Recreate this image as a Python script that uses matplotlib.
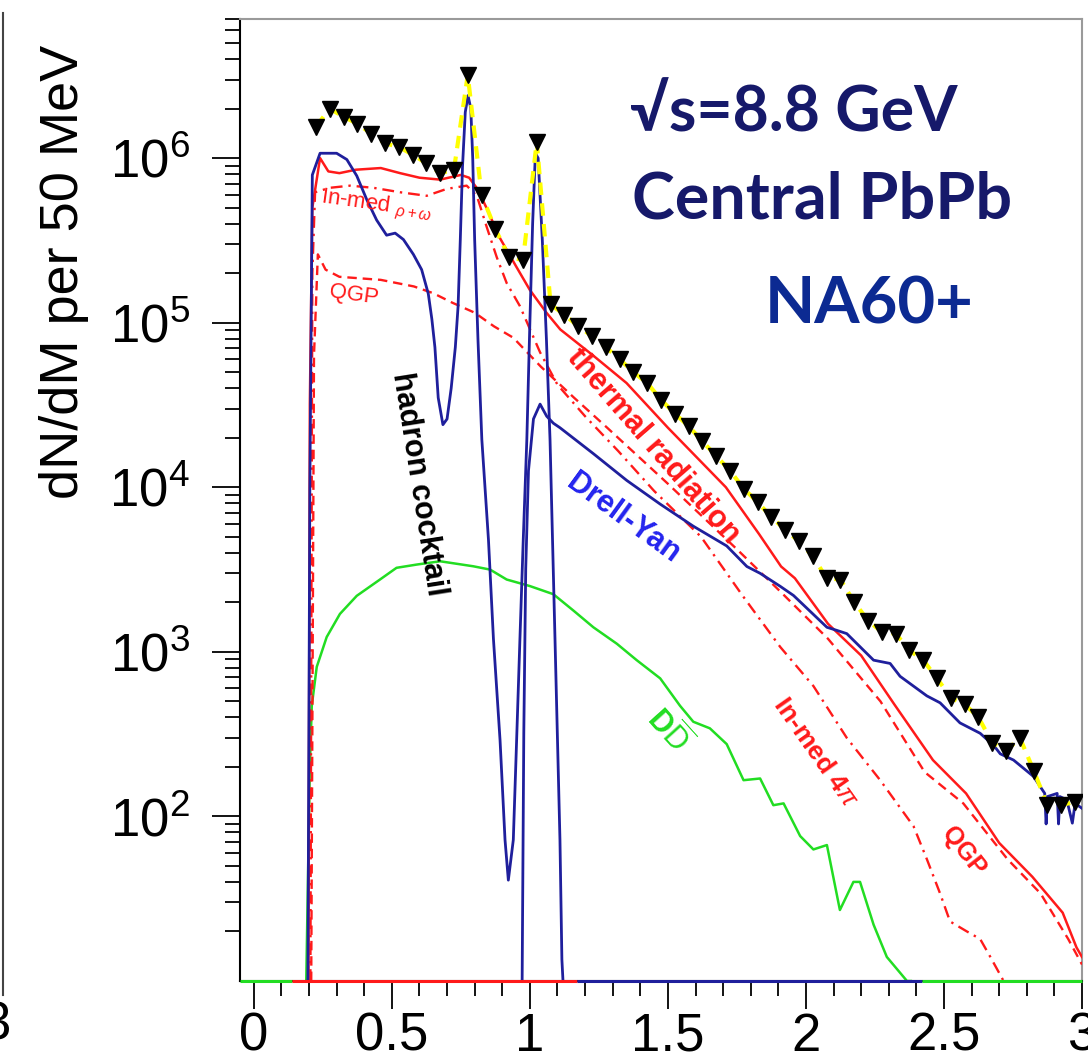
import numpy as np
import matplotlib
matplotlib.use("Agg")
import matplotlib.pyplot as plt
from matplotlib.lines import Line2D
from matplotlib.ticker import FixedLocator, MultipleLocator, LogLocator, NullFormatter

# ---------------------------------------------------------------- data
# measured spectrum (50 MeV bins)
data_mass = [0.225, 0.275, 0.325, 0.375, 0.425, 0.475, 0.525, 0.575, 0.625, 0.675,
             0.725, 0.775, 0.825, 0.875, 0.925, 0.975, 1.025, 1.075, 1.125, 1.175,
             1.225, 1.275, 1.325, 1.375, 1.425, 1.475, 1.525, 1.575, 1.625, 1.675,
             1.725, 1.775, 1.825, 1.875, 1.925, 1.975, 2.025, 2.075, 2.125, 2.175,
             2.225, 2.275, 2.325, 2.375, 2.425, 2.475, 2.525, 2.575, 2.625, 2.675,
             2.725, 2.775, 2.825, 2.875, 2.925, 2.975]
data_yield = [1.55e6, 2.0e6, 1.78e6, 1.62e6, 1.41e6, 1.23e6, 1.17e6, 1.05e6, 9.3e5, 8.1e5,
              8.5e5, 3.2e6, 6.0e5, 3.7e5, 2.5e5, 2.4e5, 1.26e6, 1.29e5, 1.12e5, 9.5e4,
              8.3e4, 7.1e4, 6.0e4, 5.0e4, 4.3e4, 3.4e4, 2.8e4, 2.35e4, 1.9e4, 1.55e4,
              1.26e4, 9.8e3, 8.1e3, 6.6e3, 5.5e3, 4.7e3, 3.8e3, 2.8e3, 2.75e3, 2.0e3,
              1.55e3, 1.32e3, 1.29e3, 1.02e3, 890, 690, 525, 480, 400, 280,
              250, 300, 190, 117, 117, 123]

# hadron cocktail (eta, rho, omega, phi ...)
cocktail_mass = [0.196, 0.203, 0.212, 0.24, 0.30, 0.337, 0.373, 0.409, 0.445, 0.481,
                 0.512, 0.542, 0.578, 0.608, 0.632, 0.645, 0.656, 0.668, 0.685, 0.70,
                 0.715, 0.73, 0.74, 0.748, 0.756, 0.766, 0.776, 0.786, 0.793, 0.80,
                 0.812, 0.826, 0.85, 0.868, 0.892, 0.91, 0.922, 0.94, 0.952, 0.964,
                 0.976, 0.989, 1.0, 1.01, 1.02, 1.03, 1.045, 1.06, 1.073, 1.091,
                 1.109, 1.116, 1.12]
cocktail_yield = [10, 1.0e4, 7.9e5, 1.07e6, 1.07e6, 9.8e5, 7.8e5, 5.6e5, 4.2e5, 3.4e5,
                  3.5e5, 3.2e5, 2.6e5, 2.1e5, 1.5e5, 1.05e5, 7.1e4, 3.5e4, 2.4e4, 2.6e4,
                  4.0e4, 7.1e4, 1.26e5, 3.2e5, 8.9e5, 1.9e6, 2.4e6, 2.0e6, 1.0e6, 3.2e5,
                  7.9e4, 1.95e4, 4.8e3, 1.2e3, 290, 72, 41, 72, 290, 1.2e3,
                  4.8e3, 1.95e4, 1.0e5, 4.0e5, 1.07e6, 1.0e6, 3.2e5, 7.9e4, 1.95e4, 1.2e3,
                  72, 13.5, 10]

# Drell-Yan
dy_mass = [0.972, 0.978, 0.985, 0.995, 1.013, 1.037, 1.061, 1.085, 1.109, 1.23,
           1.351, 1.472, 1.592, 1.713, 1.786, 1.834, 1.907, 1.955, 2.076, 2.112,
           2.148, 2.245, 2.305, 2.341, 2.438, 2.486, 2.558, 2.631, 2.68, 2.704,
           2.752, 2.824, 2.865, 2.87, 2.875, 2.91, 2.915, 2.92, 2.945, 2.965,
           2.975, 3.0]
dy_yield = [10, 320, 3.2e3, 1.26e4, 2.6e4, 3.2e4, 2.7e4, 2.45e4, 2.3e4, 1.6e4,
            1.1e4, 7.9e3, 5.8e3, 4.4e3, 3.3e3, 3.0e3, 2.5e3, 2.2e3, 1.41e3, 1.35e3,
            1.29e3, 890, 850, 710, 540, 490, 370, 320, 270, 240,
            220, 175, 138, 90, 132, 138, 90, 132, 126, 91,
            120, 112]

# thermal radiation: total, in-medium rho+omega / 4pi, QGP
thermal_mass = [0.198, 0.203, 0.212, 0.24, 0.27, 0.31, 0.37, 0.46, 0.53, 0.60,
                0.675, 0.75, 0.78, 0.81, 0.845, 0.89, 0.95, 1.0, 1.06, 1.11,
                1.23, 1.35, 1.50, 1.71, 1.83, 1.91, 1.96, 2.08, 2.20, 2.32,
                2.46, 2.58, 2.70, 2.82, 2.93, 2.98, 3.0]
thermal_yield = [10, 3.2e4, 5.0e5, 1.0e6, 8.3e5, 8.1e5, 8.5e5, 8.7e5, 8.1e5, 7.6e5,
                 7.4e5, 7.9e5, 7.6e5, 6.5e5, 4.9e5, 3.3e5, 2.2e5, 1.58e5, 1.15e5, 9.1e4,
                 6.3e4, 4.3e4, 2.3e4, 1.0e4, 5.2e3, 3.3e3, 2.8e3, 1.48e3, 950, 480,
                 220, 138, 69, 43, 26, 16, 14]

inmed_mass = [0.205, 0.212, 0.222, 0.276, 0.349, 0.433, 0.530, 0.626, 0.699, 0.771,
              0.808, 0.844, 0.88, 0.916, 0.964, 1.037, 1.10, 1.20, 1.32, 1.45,
              1.62, 1.77, 1.907, 2.027, 2.148, 2.269, 2.39, 2.438, 2.486, 2.522,
              2.583, 2.631, 2.668, 2.716]
inmed_yield = [10, 2.0e5, 6.2e5, 6.6e5, 6.8e5, 6.6e5, 6.2e5, 5.9e5, 6.5e5, 6.8e5,
               5.9e5, 3.8e5, 2.5e5, 1.74e5, 1.26e5, 6.6e4, 4.2e4, 2.7e4, 1.66e4, 9.5e3,
               5.0e3, 2.2e3, 1.07e3, 620, 300, 166, 87, 55, 34, 23,
               20, 18, 14, 10]

qgp_mass = [0.208, 0.218, 0.232, 0.26, 0.31, 0.46, 0.58, 0.65, 0.72, 0.80,
            0.87, 0.94, 1.04, 1.16, 1.28, 1.50, 1.75, 1.91, 2.08, 2.27,
            2.43, 2.57, 2.73, 2.85, 2.95, 3.0]
qgp_yield = [10, 6.3e4, 2.6e5, 2.1e5, 1.9e5, 1.82e5, 1.66e5, 1.51e5, 1.32e5, 1.15e5,
             9.5e4, 8.1e4, 5.4e4, 3.5e4, 2.3e4, 1.05e4, 4.2e3, 2.3e3, 1.2e3, 500,
             186, 120, 55, 34, 18, 12.6]

# open charm
dd_mass = [0.19, 0.203, 0.21, 0.228, 0.264, 0.312, 0.373, 0.457, 0.517, 0.59,
           0.675, 0.795, 0.856, 0.916, 1.0, 1.085, 1.158, 1.23, 1.315, 1.387,
           1.472, 1.544, 1.592, 1.652, 1.713, 1.774, 1.834, 1.882, 1.919, 1.979,
           2.027, 2.076, 2.123, 2.172, 2.196, 2.245, 2.293, 2.366, 2.38]
dd_yield = [10, 200, 470, 810, 1230, 1700, 2190, 2750, 3240, 3390,
            3550, 3310, 3160, 2750, 2510, 2240, 1780, 1410, 1120, 890,
            690, 470, 376, 343, 275, 166, 170, 117, 120, 76,
            63, 67, 27, 40, 40, 22, 14, 10, 10]

# empty-bin segments drawn along the lower frame
zero_edges = [-0.05, 0.14, 1.17, 2.42, 3.0]
zero_colors = ["#22dd22", "#ff1a1a", "#1f1f9c", "#22dd22"]

x_ticks = [0, 0.5, 1, 1.5, 2, 2.5, 3]
x_ticklabels = ["0", "0.5", "1", "1.5", "2", "2.5", "3"]
y_ticks = [1e2, 1e3, 1e4, 1e5, 1e6]
y_ticklabels = [r"$\mathregular{10^{2}}$", r"$\mathregular{10^{3}}$", r"$\mathregular{10^{4}}$",
                r"$\mathregular{10^{5}}$", r"$\mathregular{10^{6}}$"]

# ---------------------------------------------------------------- style
plt.rcParams["font.family"] = ["Liberation Sans", "DejaVu Sans"]
plt.rcParams["mathtext.fontset"] = "custom"
plt.rcParams["mathtext.rm"] = "Liberation Sans"
plt.rcParams["mathtext.it"] = "Liberation Sans:italic"
plt.rcParams["mathtext.bf"] = "Liberation Sans:bold"

W, H = 1088, 1060
fig = plt.figure(figsize=(W / 100, H / 100), dpi=100)
L, R, T, B = 240, 1082, 19, 981
ax = fig.add_axes([L / W, 1 - B / H, (R - L) / W, (B - T) / H])
ax.set_xlim(-0.05, 3.0)
ax.set_yscale("log")
ax.set_ylim(10, 7e6)

RED = "#ff1a1a"
BLUE = "#1f1f9c"
GREEN = "#22dd22"

ax.plot(dd_mass, dd_yield, color=GREEN, lw=1.8, zorder=2)
ax.plot(qgp_mass, qgp_yield, color=RED, lw=1.7, ls=(0, (4, 2.5)), zorder=3)
ax.plot(inmed_mass, inmed_yield, color=RED, lw=1.7, ls=(0, (5, 2.5, 1, 2.5)), zorder=3)
ax.plot(thermal_mass, thermal_yield, color=RED, lw=1.8, zorder=3)
ax.plot(dy_mass, dy_yield, color=BLUE, lw=2.0, zorder=4)
ax.plot(cocktail_mass, cocktail_yield, color=BLUE, lw=2.0, zorder=4)

for x0, x1, c in zip(zero_edges[:-1], zero_edges[1:], zero_colors):
    ax.plot([x0, x1], [10, 10], color=c, lw=2.2, zorder=6, clip_on=False,
            solid_capstyle="butt")

ax.plot(data_mass, data_yield, color="#ffff00", lw=3.0, ls=(0, (3, 2)), zorder=5)
ax.plot(data_mass, data_yield, ls="none", marker="v", ms=11.5, color="black", zorder=7)

# ---------------------------------------------------------------- axes
ax.xaxis.set_major_locator(FixedLocator(x_ticks))
ax.set_xticklabels(x_ticklabels)
ax.xaxis.set_minor_locator(MultipleLocator(0.1))
ax.yaxis.set_major_locator(FixedLocator(y_ticks))
ax.set_yticklabels(y_ticklabels)
ax.yaxis.set_minor_locator(LogLocator(base=10, subs=np.arange(2, 10), numticks=30))
ax.yaxis.set_minor_formatter(NullFormatter())
ax.tick_params(which="both", direction="out", width=1.3, colors="black",
               top=False, right=False)
ax.tick_params(which="major", length=20, labelsize=38)
ax.tick_params(which="minor", length=11)
ax.tick_params(axis="y", which="major", pad=16)
ax.tick_params(axis="x", which="major", pad=2)
for s in ("left", "bottom"):
    ax.spines[s].set_linewidth(1.5)
    ax.spines[s].set_color("black")
for s in ("top", "right"):
    ax.spines[s].set_linewidth(1.5)
    ax.spines[s].set_color("#9a9a9a")

fig.text(64 / W, 1 - 272 / H, "dN/dM per 50 MeV", rotation=90, ha="center",
         va="center", fontsize=39)

# ---------------------------------------------------------------- curve labels
def label(x, y, s, rot, color, size=22, weight="bold"):
    ax.text(x, y, s, rotation=rot, rotation_mode="anchor", ha="center", va="center",
            color=color, fontsize=size, fontweight=weight, zorder=8)

label(0.595, 1.05e4, "hadron cocktail", -81, "black")
label(1.447, 1.78e4, "thermal radiation", -49, RED)
label(1.339, 6.5e3, "Drell-Yan", -36, "#2424ee")
label(1.50, 330, r"D$\overline{\mathrm{D}}$", -48, GREEN)
label(2.033, 243, r"In-med 4$\pi$", -55, RED, size=19)
label(2.57, 61, "QGP", -52, RED, size=18)
label(0.443, 5.1e5, r"In-med $_{\rho+\omega}$", -8, RED, size=16, weight="normal")
label(0.363, 1.48e5, "QGP", -8, RED, size=16, weight="normal")

# ---------------------------------------------------------------- headline text
big = ["Lato", "DejaVu Sans"]
fig.text(630 / W, 1 - 132 / H, "\u221as=8.8 GeV", family=big, fontweight="bold",
         fontsize=45, color="#16196a", ha="left", va="baseline")
fig.text(632 / W, 1 - 218 / H, "Central PbPb", family=big, fontweight="bold",
         fontsize=46.5, color="#16196a", ha="left", va="baseline")
fig.text(765 / W, 1 - 323 / H, "NA60+", family=big, fontweight="bold",
         fontsize=47, color="#0c2a92", ha="left", va="baseline")

# edge of the neighbouring panel
fig.add_artist(Line2D([2.5 / W, 2.5 / W], [1 - 13 / H, 1 - 995 / H],
                      transform=fig.transFigure, color="#444444", lw=1.5))
fig.text(-4 / W, 1 - 1001 / H, "3", fontsize=38, ha="center", va="top")

fig.savefig("out.png", dpi=100)
